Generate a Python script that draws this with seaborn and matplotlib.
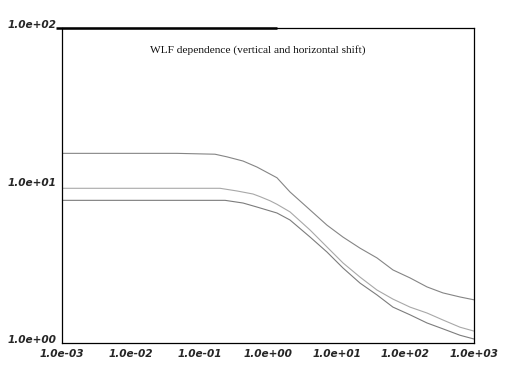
import pandas as pd
import seaborn as sns
import matplotlib.pyplot as plt

# frequency values
top_x = [0.001, 0.047, 0.169, 0.253, 0.433, 0.69, 1.35, 2.09, 4.09, 7.23, 12.4, 21.9, 38.6, 66, 117, 207, 353, 625, 1000]
top_y = [16.0, 16.0, 15.8, 15.2, 14.3, 13.1, 11.2, 9.1, 7.0, 5.6, 4.7, 4.0, 3.47, 2.91, 2.59, 2.27, 2.08, 1.96, 1.88]

mid_x = [0.001, 0.2, 0.354, 0.605, 0.764, 1.07, 1.35, 2.09, 4.09, 7.23, 12.4, 21.9, 38.6, 66, 117, 207, 353, 625, 1000]
mid_y = [9.6, 9.6, 9.23, 8.83, 8.5, 8.0, 7.6, 6.8, 5.22, 4.07, 3.22, 2.62, 2.17, 1.90, 1.69, 1.55, 1.40, 1.26, 1.19]

bot_x = [0.001, 0.237, 0.433, 0.69, 1.35, 2.09, 4.09, 7.23, 12.4, 21.9, 38.6, 66, 117, 207, 353, 625, 1000]
bot_y = [8.05, 8.05, 7.74, 7.30, 6.69, 6.04, 4.71, 3.78, 2.99, 2.40, 2.02, 1.69, 1.51, 1.34, 1.23, 1.12, 1.06]

x_ticks = [1e-3, 1e-2, 1e-1, 1e0, 1e1, 1e2, 1e3]
x_labels = ["1.0e-03", "1.0e-02", "1.0e-01", "1.0e+00", "1.0e+01", "1.0e+02", "1.0e+03"]
y_ticks = [1e0, 1e1, 1e2]
y_labels = ["1.0e+00", "1.0e+01", "1.0e+02"]

title = "WLF dependence (vertical and horizontal shift)"


def build_frame():
    parts = []
    for name, xs, ys in [("top", top_x, top_y), ("mid", mid_x, mid_y), ("bot", bot_x, bot_y)]:
        parts.append(pd.DataFrame({"x": xs, "y": ys, "curve": name}))
    return pd.concat(parts, ignore_index=True)


def main():
    sns.set_style("white")
    df = build_frame()

    fig = plt.figure(figsize=(5.14, 3.89), dpi=100)
    ax = fig.add_axes([62 / 514, 1 - 343 / 389, 412 / 514, 315 / 389])

    palette = {"top": "#858585", "mid": "#a8a8a8", "bot": "#7c7c7c"}
    sns.lineplot(data=df, x="x", y="y", hue="curve", palette=palette, sort=False,
                 linewidth=0.8, legend=False, ax=ax)

    ax.set(xscale="log", yscale="log", xlim=(1e-3, 1e3), ylim=(1, 100), xlabel="", ylabel="")
    ax.minorticks_off()
    ax.set_xticks(x_ticks)
    ax.set_xticklabels(x_labels)
    ax.set_yticks(y_ticks)
    ax.set_yticklabels(y_labels)

    tick_font = dict(family="DejaVu Sans", weight="bold", style="italic", size=7.6)
    for lab in ax.get_xticklabels() + ax.get_yticklabels():
        lab.set_fontproperties(tick_font)
    for lab in ax.get_yticklabels():
        lab.set_va("baseline")
    ax.tick_params(axis="both", direction="out", length=4.5, width=0.8, color="black", pad=0)
    ax.tick_params(axis="y", pad=-0.5)

    for sp in ax.spines.values():
        sp.set_visible(True)
        sp.set_color("black")
        sp.set_linewidth(0.9)

    # heavier stroke on the left part of the top frame, as in the original
    ax.plot([-0.015, 0.522], [1.0, 1.0], color="black", linewidth=1.8,
            transform=ax.transAxes, clip_on=False, solid_capstyle="butt")

    ax.text(0.475, 0.93, title, transform=ax.transAxes, ha="center", va="center",
            fontsize=8.2, family="Liberation Serif", color="#111111")

    fig.savefig("out.png", dpi=100)


if __name__ == "__main__":
    main()
